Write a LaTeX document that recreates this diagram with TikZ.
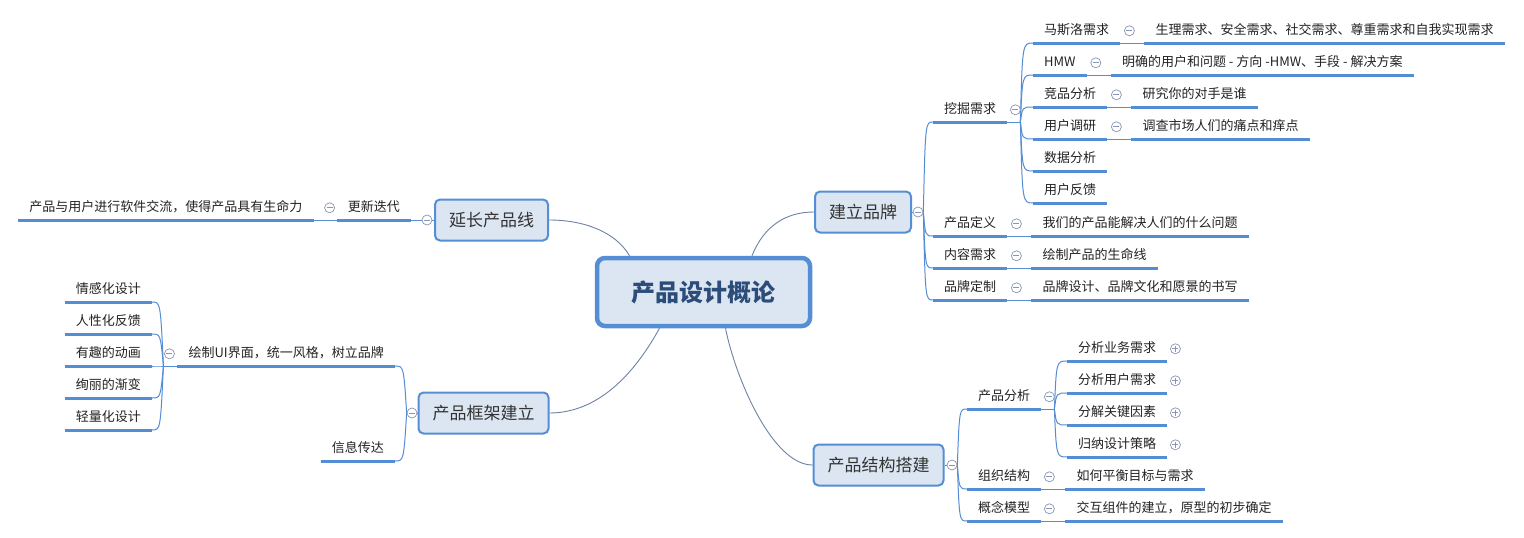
\documentclass[tikz,border=0pt]{standalone}
\usepackage{fontspec}
\setmainfont{Noto Sans CJK SC}
\usetikzlibrary{calc,backgrounds}
\definecolor{ublue}{RGB}{84,141,212}
\definecolor{bfill}{RGB}{220,230,242}
\definecolor{bdraw}{RGB}{85,142,213}
\definecolor{ctext}{RGB}{44,77,122}
\definecolor{ltext}{RGB}{35,35,35}
\definecolor{btext}{RGB}{51,51,51}
\definecolor{cgray}{RGB}{135,150,178}
\definecolor{lnk}{RGB}{110,130,165}
\begin{document}
\begin{tikzpicture}[x=1pt,y=-1pt,
  uline/.style={draw=ublue, line width=3pt},
  lbl/.style={font=\fontsize{13}{15}\selectfont, text=ltext, inner xsep=11pt, inner ysep=0pt,
    minimum height=24pt, text height=10pt, text depth=3pt,
    append after command={(\tikzlastnode.south west) edge[uline] (\tikzlastnode.south east)}},
  rl/.style={lbl, anchor=south west},
  ll/.style={lbl, anchor=south east},
  br/.style={draw=ublue, line width=1pt},
  lk/.style={draw=lnk, line width=0.9pt},
  box/.style={rounded corners=5pt, draw=bdraw, line width=2pt, fill=bfill,
    font=\fontsize{17}{20}\selectfont, text=btext, minimum height=41pt, inner xsep=14pt},
  central/.style={rounded corners=8pt, draw=bdraw, line width=4.5pt, fill=bfill,
    font=\fontsize{24}{28}\selectfont\bfseries, text=ctext, minimum width=213pt, minimum height=68pt},
  coll/.style={circle, draw=cgray, line width=0.7pt, fill=white, minimum size=10pt, inner sep=0pt,
    path picture={\draw[cgray, line width=0.7pt] ([xshift=-3pt]path picture bounding box.center) -- ([xshift=3pt]path picture bounding box.center);}},
  expd/.style={circle, draw=cgray, line width=0.7pt, fill=white, minimum size=10pt, inner sep=0pt,
    path picture={\draw[cgray, line width=0.7pt] ([xshift=-3pt]path picture bounding box.center) -- ([xshift=3pt]path picture bounding box.center);
      \draw[cgray, line width=0.7pt] ([yshift=-3pt]path picture bounding box.center) -- ([yshift=3pt]path picture bounding box.center);}}
]
\useasboundingbox (0,0) rectangle (1524,538);

% central and main topics
\node[central] (c) at (703.5,292) {产品设计概论};
\node[box] (b1) at (863,212) {建立品牌};
\node[box] (b2) at (491.5,220) {延长产品线};
\node[box] (b3) at (483.5,413) {产品框架建立};
\node[box] (b4) at (878.5,465) {产品结构搭建};
\node[coll] (b1c) at (918,212) {};
\node[coll] (b2c) at (427,220) {};
\node[coll] (b3c) at (412,413) {};
\node[coll] (b4c) at (952,465) {};

% 建立品牌
\node[rl] (k1) at (933,122) {挖掘需求};
\node[rl] (k2) at (933,236) {产品定义};
\node[rl] (k3) at (933,268) {内容需求};
\node[rl] (k4) at (933,300) {品牌定制};
\node[coll] (k1c) at ($(k1.east)+(8,0)$) {};
\node[coll] (k2c) at ($(k2.east)+(9,0)$) {};
\node[coll] (k3c) at ($(k3.east)+(9,0)$) {};
\node[coll] (k4c) at ($(k4.east)+(9,0)$) {};
\node[rl] (k2l) at ($(k2.south east)+(24,0)$) {我们的产品能解决人们的什么问题};
\node[rl] (k3l) at ($(k3.south east)+(24,0)$) {绘制产品的生命线};
\node[rl] (k4l) at ($(k4.south east)+(24,0)$) {品牌设计、品牌文化和愿景的书写};

\node[rl] (m1) at (1033,43) {马斯洛需求};
\node[rl] (m2) at (1033,75) {HMW};
\node[rl] (m3) at (1033,107) {竞品分析};
\node[rl] (m4) at (1033,139) {用户调研};
\node[rl] (m5) at (1033,171) {数据分析};
\node[rl] (m6) at (1033,203) {用户反馈};
\node[coll] (m1c) at ($(m1.east)+(9,0)$) {};
\node[coll] (m2c) at ($(m2.east)+(9,0)$) {};
\node[coll] (m3c) at ($(m3.east)+(9,0)$) {};
\node[coll] (m4c) at ($(m4.east)+(9,0)$) {};
\node[rl] (m1l) at ($(m1.south east)+(24,0)$) {生理需求、安全需求、社交需求、尊重需求和自我实现需求};
\node[rl] (m2l) at ($(m2.south east)+(24,0)$) {明确的用户和问题 - 方向 -HMW、手段 - 解决方案};
\node[rl] (m3l) at ($(m3.south east)+(24,0)$) {研究你的对手是谁};
\node[rl] (m4l) at ($(m4.south east)+(24,0)$) {调查市场人们的痛点和痒点};

% 产品结构搭建
\node[rl] (p1) at (967,409) {产品分析};
\node[rl] (p2) at (967,489) {组织结构};
\node[rl] (p3) at (967,521) {概念模型};
\node[coll] (p1c) at ($(p1.east)+(8,0)$) {};
\node[coll] (p2c) at ($(p2.east)+(8,0)$) {};
\node[coll] (p3c) at ($(p3.east)+(8,0)$) {};
\node[rl] (p2l) at ($(p2.south east)+(24,0)$) {如何平衡目标与需求};
\node[rl] (p3l) at ($(p3.south east)+(24,0)$) {交互组件的建立，原型的初步确定};
\node[rl] (q1) at (1067,361) {分析业务需求};
\node[rl] (q2) at (1067,393) {分析用户需求};
\node[rl] (q3) at (1067,425) {分解关键因素};
\node[rl] (q4) at (1067,457) {归纳设计策略};
\node[expd] (q1c) at ($(q1.east)+(8,0)$) {};
\node[expd] (q2c) at ($(q2.east)+(8,0)$) {};
\node[expd] (q3c) at ($(q3.east)+(8,0)$) {};
\node[expd] (q4c) at ($(q4.east)+(8,0)$) {};

% 延长产品线
\node[ll] (u1) at (411,220) {更新迭代};
\node[coll] (u1c) at ($(u1.west)+(-7,0)$) {};
\node[ll] (u1l) at ($(u1.south west)+(-23,0)$) {产品与用户进行软件交流，使得产品具有生命力};

% 产品框架建立
\node[ll] (f1) at (395,366) {绘制UI界面，统一风格，树立品牌};
\node[ll] (f2) at (395,461) {信息传达};
\node[coll] (f1c) at ($(f1.west)+(-8,0)$) {};
\node[ll] (g1) at (152,302) {情感化设计};
\node[ll] (g2) at (152,334) {人性化反馈};
\node[ll] (g3) at (152,366) {有趣的动画};
\node[ll] (g4) at (152,398) {绚丽的渐变};
\node[ll] (g5) at (152,430) {轻量化设计};

% junctions
\coordinate (b1j) at ($(b1c.east)+(2,0)$);
\coordinate (k1j) at ($(k1.south east)+(13,0)$);
\coordinate (k1k) at ($(k1j)+(2,0)$);
\coordinate (b4j) at ($(b4c.east)+(2,0)$);
\coordinate (p1j) at ($(p1.south east)+(13,0)$);
\coordinate (p1k) at ($(p1j)+(2,0)$);
\coordinate (b3j) at ($(b3c.west)+(-3,0)$);
\coordinate (f1j) at ($(f1.south west)+(-14,0)$);
\coordinate (f1k) at ($(f1j)+(-3,0)$);

\begin{scope}[on background layer]
\fill[white] (0,0) rectangle (1524,538);
% central links
\draw[lk] ([xshift=48.5pt]c.north) .. controls +(12,-30) and +(-28,0) .. (b1.west);
\draw[lk] (b2.east) .. controls +(35,0) and +(-14,-24) .. ([xshift=-74pt]c.north);
\draw[lk] (b3.east) .. controls +(52,0) and +(-22,40) .. ([xshift=-44pt]c.south);
\draw[lk] ([xshift=22pt]c.south) .. controls +(10,50) and +(-40,0) .. (b4.west);
% 建立品牌 tree
\draw[br] (b1.east) -- (b1c.west);
\foreach \n in {k1,k2,k3,k4}
  \draw[br] (b1c.east) .. controls (b1j |- \n.south) and (b1j |- \n.south) .. (\n.south west);
\draw[br] (k1.south east) -- (k1j);
\foreach \n in {m1,m2,m3,m4,m5,m6}
  \draw[br] (k1j) .. controls (k1k |- \n.south) and (k1k |- \n.south) .. (\n.south west);
\foreach \n in {k2,k3,k4,m1,m2,m3,m4}
  \draw[br] (\n.south east) -- (\n l.south west);
% 产品结构搭建 tree
\draw[br] (b4.east) -- (b4c.west);
\foreach \n in {p1,p2,p3}
  \draw[br] (b4c.east) .. controls (b4j |- \n.south) and (b4j |- \n.south) .. (\n.south west);
\draw[br] (p1.south east) -- (p1j);
\foreach \n in {q1,q2,q3,q4}
  \draw[br] (p1j) .. controls (p1k |- \n.south) and (p1k |- \n.south) .. (\n.south west);
\foreach \n in {p2,p3}
  \draw[br] (\n.south east) -- (\n l.south west);
% 延长产品线 tree
\draw[br] (b2.west) -- (b2c.east);
\draw[br] (b2c.west) -- (u1.south east);
\draw[br] (u1.south west) -- (u1l.south east);
% 产品框架建立 tree
\draw[br] (b3.west) -- (b3c.east);
\foreach \n in {f1,f2}
  \draw[br] (b3c.west) .. controls (b3j |- \n.south) and (b3j |- \n.south) .. (\n.south east);
\draw[br] (f1.south west) -- (f1j);
\foreach \n in {g1,g2,g3,g4,g5}
  \draw[br] (f1j) .. controls (f1k |- \n.south) and (f1k |- \n.south) .. (\n.south east);
\end{scope}
\end{tikzpicture}
\end{document}
